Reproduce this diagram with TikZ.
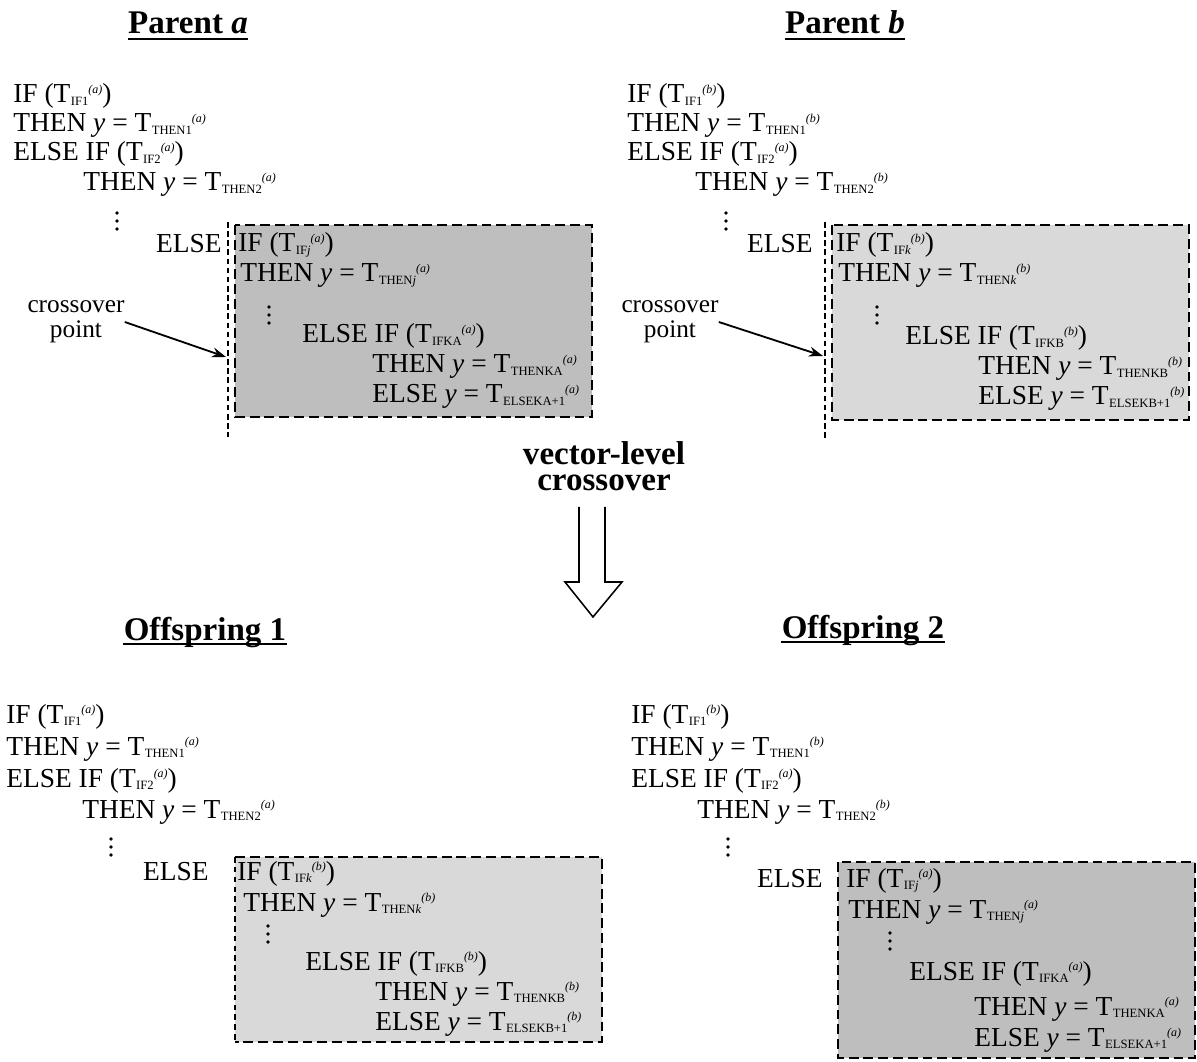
\documentclass[tikz,border=0pt]{standalone}
\usepackage{fontspec}
\setmainfont{Liberation Serif}
\usetikzlibrary{arrows.meta}
\definecolor{boxd}{RGB}{190,190,190}
\definecolor{boxl}{RGB}{217,217,217}
\newcommand{\Tx}[2]{T\kern0.3pt\raisebox{-1.5pt}{\fontsize{9}{9}\selectfont #1}\raisebox{7pt}{\fontsize{8.5}{9}\selectfont\itshape(#2)}}
\newcommand{\Yq}{\textit{y} = }
\newcommand{\vdotsat}[1]{\foreach \dy in {-8,0,8} {\fill ([yshift=-\dy*0.7113pt]#1) circle[radius=1.4pt];}}
\tikzset{
  codeln/.style={anchor=base west, inner sep=0pt, font=\fontsize{19.5}{20}\selectfont},
  elseln/.style={anchor=base east, inner sep=0pt, font=\fontsize{19.5}{20}\selectfont},
  ttl/.style={anchor=base, inner sep=0pt, font=\fontsize{23.5}{24}\selectfont\bfseries},
  ul/.style={line width=1.4pt},
  boxdk/.style={fill=boxd, draw=black, line width=2pt, dash pattern=on 7pt off 3.5pt},
  boxlt/.style={fill=boxl, draw=black, line width=2pt, dash pattern=on 7pt off 3.5pt},
  cutln/.style={line width=1.6pt, dash pattern=on 4pt off 2.5pt},
  thinedge/.style={line width=0.8pt, dash pattern=on 4pt off 3pt},
  lbl/.style={align=center, inner sep=0pt, font=\fontsize{18}{18}\selectfont},
  ptr/.style={-{Stealth[length=10pt,width=7pt]}, line width=1.3pt},
  bigarrow/.style={line width=1.1pt, line join=miter},
  vlabel/.style={anchor=north, align=center, inner sep=0pt, font=\fontsize{23.5}{18.8}\selectfont\bfseries}
}
\begin{document}
\begin{tikzpicture}[x=0.025cm,y=-0.025cm]
\useasboundingbox[fill=white] (0,0) rectangle (1197,1062);

% ---------------- boxes ----------------
\draw[boxdk] (235,225) rectangle (592,417);
\draw[cutln] (228,222) -- (228,437);
\draw[boxlt] (832,225) rectangle (1189,420);
\draw[cutln] (825,222) -- (825,438);
\fill[boxl] (235,857) rectangle (602,1042);
\draw[line width=2pt, dash pattern=on 7pt off 3.5pt] (235,857) -- (602,857) -- (602,1042) -- (235,1042);
\draw[thinedge] (235,857) -- (235,1042);
\draw[boxdk] (838,862) rectangle (1195,1058);

% ---------------- titles ----------------
\node[ttl] (ta) at (188,34) {Parent \textit{a}};
\draw[ul] ([yshift=-3.6pt]ta.base west) -- ([yshift=-3.6pt]ta.base east);
\node[ttl] (tb) at (845,34) {Parent \textit{b}};
\draw[ul] ([yshift=-3.6pt]tb.base west) -- ([yshift=-3.6pt]tb.base east);
\node[ttl] (to1) at (205,640) {Offspring 1};
\draw[ul] ([yshift=-3.0pt]to1.base west) -- ([yshift=-3.0pt]to1.base east);
\node[ttl] (to2) at (863,638) {Offspring 2};
\draw[ul] ([yshift=-3.0pt]to2.base west) -- ([yshift=-3.0pt]to2.base east);

% ---------------- Parent a ----------------
\node[codeln] (pa1) at (13,103) {IF (\Tx{IF1}{a})};
\node[codeln] (pa2) at (13,132) {THEN \Yq\Tx{THEN1}{a}};
\node[codeln] (pa3) at (13,161) {ELSE IF (\Tx{IF2}{a})};
\node[codeln] (pa4) at (83,191) {THEN \Yq\Tx{THEN2}{a}};
\coordinate (pad) at (117,221); \vdotsat{pad}
\node[elseln] (pae) at (222,253) {ELSE};
\node[codeln] (pai1) at (238,252) {IF (\Tx{IF\textit{j}}{a})};
\node[codeln] (pai2) at (240,282) {THEN \Yq\Tx{THEN\textit{j}}{a}};
\coordinate (paid) at (269,315); \vdotsat{paid}
\node[codeln] (pai3) at (302,343) {ELSE IF (\Tx{IFKA}{a})};
\node[codeln] (pai4) at (372,373) {THEN \Yq\Tx{THENKA}{a}};
\node[codeln] (pai5) at (372,403) {ELSE \Yq\Tx{ELSEKA+1}{a}};
\node[lbl] (cpa) at (76,322) {crossover\\point};
\coordinate (ea) at (226,357);
\draw[ptr] (cpa.east) -- (ea);

% ---------------- Parent b ----------------
\node[codeln] (pb1) at (627,103) {IF (\Tx{IF1}{b})};
\node[codeln] (pb2) at (627,132) {THEN \Yq\Tx{THEN1}{b}};
\node[codeln] (pb3) at (627,161) {ELSE IF (\Tx{IF2}{a})};
\node[codeln] (pb4) at (695,191) {THEN \Yq\Tx{THEN2}{b}};
\coordinate (pbd) at (726,221); \vdotsat{pbd}
\node[elseln] (pbe) at (813,253) {ELSE};
\node[codeln] (pbi1) at (836,252) {IF (\Tx{IF\textit{k}}{b})};
\node[codeln] (pbi2) at (838,282) {THEN \Yq\Tx{THEN\textit{k}}{b}};
\coordinate (pbid) at (877,315); \vdotsat{pbid}
\node[codeln] (pbi3) at (905,345) {ELSE IF (\Tx{IFKB}{b})};
\node[codeln] (pbi4) at (978,375) {THEN \Yq\Tx{THENKB}{b}};
\node[codeln] (pbi5) at (978,405) {ELSE \Yq\Tx{ELSEKB+1}{b}};
\node[lbl] (cpb) at (670,322) {crossover\\point};
\coordinate (eb) at (823,356);
\draw[ptr] (cpb.east) -- (eb);

% ---------------- vector-level crossover ----------------
\node[vlabel] (vl) at (604,441) {vector-level\\crossover};
\draw[bigarrow] (579,507) -- (579,582) -- (565,582) -- (593,617) -- (622,582) -- (605,582) -- (605,507);

% ---------------- Offspring 1 ----------------
\node[codeln] (oa1) at (6,723) {IF (\Tx{IF1}{a})};
\node[codeln] (oa2) at (6,755) {THEN \Yq\Tx{THEN1}{a}};
\node[codeln] (oa3) at (6,787) {ELSE IF (\Tx{IF2}{a})};
\node[codeln] (oa4) at (82,818) {THEN \Yq\Tx{THEN2}{a}};
\coordinate (oad) at (111,847); \vdotsat{oad}
\node[elseln] (oae) at (209,880) {ELSE};
\node[codeln] (oai1) at (237,880) {IF (\Tx{IF\textit{k}}{b})};
\node[codeln] (oai2) at (243,911) {THEN \Yq\Tx{THEN\textit{k}}{b}};
\coordinate (oaid) at (268,934); \vdotsat{oaid}
\node[codeln] (oai3) at (305,970) {ELSE IF (\Tx{IFKB}{b})};
\node[codeln] (oai4) at (375,1000) {THEN \Yq\Tx{THENKB}{b}};
\node[codeln] (oai5) at (375,1030) {ELSE \Yq\Tx{ELSEKB+1}{b}};

% ---------------- Offspring 2 ----------------
\node[codeln] (ob1) at (631,723) {IF (\Tx{IF1}{b})};
\node[codeln] (ob2) at (631,755) {THEN \Yq\Tx{THEN1}{b}};
\node[codeln] (ob3) at (631,787) {ELSE IF (\Tx{IF2}{a})};
\node[codeln] (ob4) at (697,818) {THEN \Yq\Tx{THEN2}{b}};
\coordinate (obd) at (728,847); \vdotsat{obd}
\node[elseln] (obe) at (823,887) {ELSE};
\node[codeln] (obi1) at (846,887) {IF (\Tx{IF\textit{j}}{a})};
\node[codeln] (obi2) at (848,918) {THEN \Yq\Tx{THEN\textit{j}}{a}};
\coordinate (obid) at (890,941); \vdotsat{obid}
\node[codeln] (obi3) at (909,980) {ELSE IF (\Tx{IFKA}{a})};
\node[codeln] (obi4) at (974,1015) {THEN \Yq\Tx{THENKA}{a}};
\node[codeln] (obi5) at (974,1046) {ELSE \Yq\Tx{ELSEKA+1}{a}};
\end{tikzpicture}
\end{document}
